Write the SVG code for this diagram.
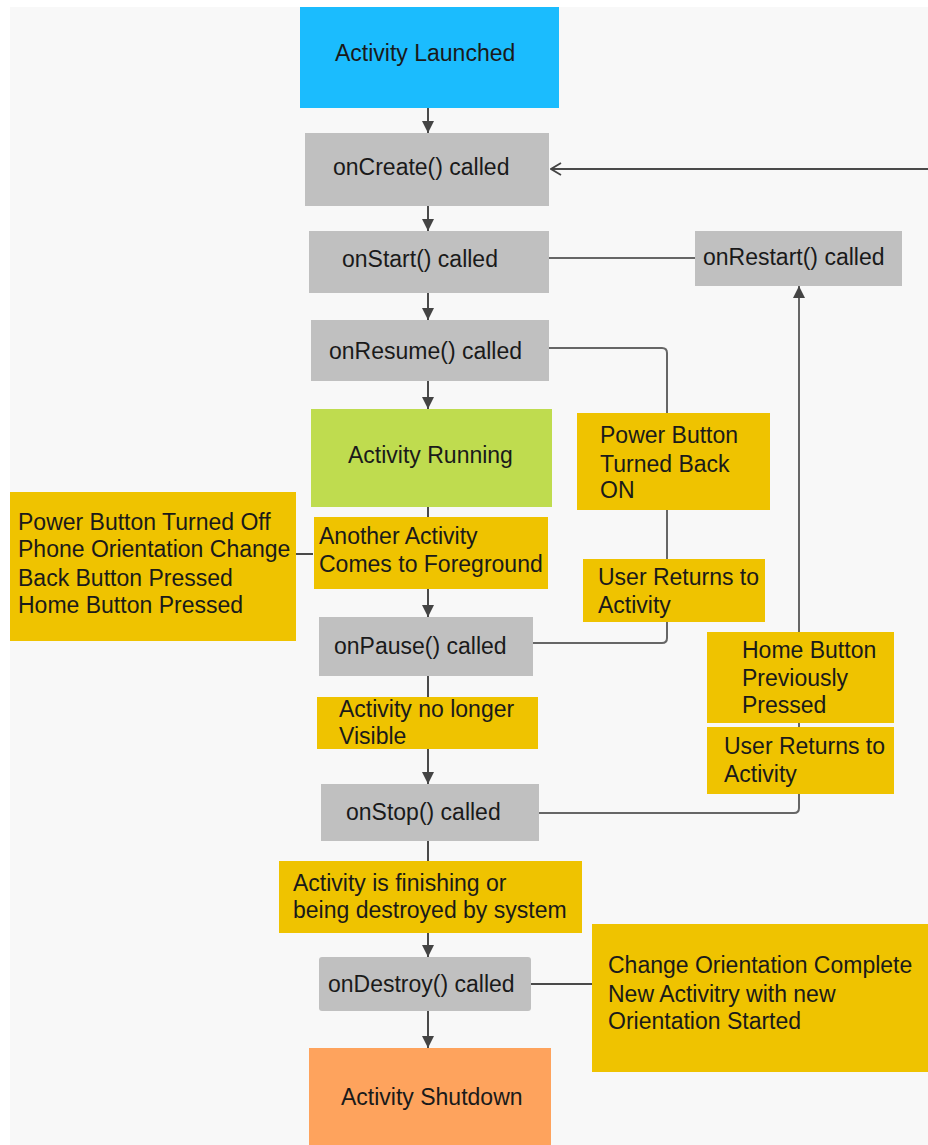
<svg xmlns="http://www.w3.org/2000/svg" width="928" height="1145" viewBox="0 0 928 1145">
<defs>
<style>
text{font-family:"Liberation Sans",Arial,sans-serif;font-size:23px;fill:#1a1a1a}
.gray{fill:#c0c0c0}
.lbl{fill:#efc300}
.ln{fill:none;stroke:#4a4a4a;stroke-width:2}
.ln2{fill:none;stroke:#666;stroke-width:2}
</style>
<marker id="ah" viewBox="0 0 12 12" refX="12" refY="6" markerWidth="12" markerHeight="12" markerUnits="userSpaceOnUse" orient="auto">
<path d="M0,0 L12,6 L0,12 z" fill="#444"/>
</marker>
<marker id="open" viewBox="0 0 12 14" refX="11" refY="7" markerWidth="12" markerHeight="14" markerUnits="userSpaceOnUse" orient="auto">
<path d="M1,1 L11,7 L1,13" fill="none" stroke="#444" stroke-width="1.8"/>
</marker>
</defs>
<rect x="10" y="7" width="918" height="1138" fill="#f8f8f8"/>
<g id="connectors">
<line class="ln" x1="428" y1="108" x2="428" y2="133" marker-end="url(#ah)"/>
<line class="ln" x1="428" y1="206" x2="428" y2="231" marker-end="url(#ah)"/>
<line class="ln" x1="428" y1="293" x2="428" y2="320" marker-end="url(#ah)"/>
<line class="ln" x1="428" y1="381" x2="428" y2="409" marker-end="url(#ah)"/>
<line class="ln" x1="428" y1="507" x2="428" y2="617" marker-end="url(#ah)"/>
<line class="ln" x1="428" y1="676" x2="428" y2="784" marker-end="url(#ah)"/>
<line class="ln" x1="428" y1="841" x2="428" y2="957" marker-end="url(#ah)"/>
<line class="ln" x1="428" y1="1011" x2="428" y2="1048" marker-end="url(#ah)"/>
<line class="ln" x1="928" y1="169" x2="551" y2="169" stroke-width="2.5" marker-end="url(#open)"/>
<line class="ln2" x1="549" y1="258" x2="695" y2="258"/>
<path class="ln2" d="M549,348 H662 Q667,348 667,353 V638 Q667,643 662,643 H533"/>
<path class="ln2" d="M539,813 H794 Q799,813 799,808 V286" marker-end="url(#ah)"/>
<line class="ln" x1="296" y1="554" x2="313" y2="554"/>
<line class="ln" x1="531" y1="984" x2="592" y2="984" stroke-width="2.5"/>
</g>
<g id="activity-launched"><rect x="300" y="7" width="259" height="101" fill="#1bbcfe"/><text x="335" y="61">Activity Launched</text></g>
<g id="oncreate"><rect class="gray" x="305" y="133" width="244" height="73"/><text x="333" y="175">onCreate() called</text></g>
<g id="onstart"><rect class="gray" x="309" y="231" width="240" height="62"/><text x="342" y="267">onStart() called</text></g>
<g id="onrestart"><rect class="gray" x="695" y="231" width="207" height="55"/><text x="703" y="265">onRestart() called</text></g>
<g id="onresume"><rect class="gray" x="311" y="320" width="238" height="61"/><text x="329" y="359">onResume() called</text></g>
<g id="activity-running"><rect x="311" y="409" width="241" height="98" fill="#bfdc4f"/><text x="348" y="463">Activity Running</text></g>
<g id="lbl-another"><rect class="lbl" x="314" y="517" width="234" height="72"/><text x="319" y="544">Another Activity</text><text x="319" y="572">Comes to Foreground</text></g>
<g id="lbl-power-off"><rect class="lbl" x="10" y="492" width="286" height="149"/><text x="18" y="530">Power Button Turned Off</text><text x="18" y="557">Phone Orientation Change</text><text x="18" y="586">Back Button Pressed</text><text x="18" y="613">Home Button Pressed</text></g>
<g id="lbl-power-on"><rect class="lbl" x="577" y="413" width="193" height="97"/><text x="600" y="443">Power Button</text><text x="600" y="472">Turned Back</text><text x="600" y="498">ON</text></g>
<g id="lbl-user-returns-1"><rect class="lbl" x="583" y="559" width="182" height="63"/><text x="598" y="585">User Returns to</text><text x="598" y="613">Activity</text></g>
<g id="onpause"><rect class="gray" x="319" y="617" width="214" height="59"/><text x="334" y="654">onPause() called</text></g>
<g id="lbl-not-visible"><rect class="lbl" x="317" y="697" width="221" height="52"/><text x="339" y="717">Activity no longer</text><text x="339" y="744">Visible</text></g>
<g id="lbl-home-prev"><rect class="lbl" x="707" y="632" width="187" height="91"/><text x="742" y="658">Home Button</text><text x="742" y="686">Previously</text><text x="742" y="713">Pressed</text></g>
<g id="lbl-user-returns-2"><rect class="lbl" x="707" y="727" width="187" height="67"/><text x="724" y="754">User Returns to</text><text x="724" y="782">Activity</text></g>
<g id="onstop"><rect class="gray" x="321" y="784" width="218" height="57"/><text x="346" y="820">onStop() called</text></g>
<g id="lbl-finishing"><rect class="lbl" x="279" y="861" width="303" height="72"/><text x="293" y="891">Activity is finishing or</text><text x="293" y="918">being destroyed by system</text></g>
<g id="ondestroy"><rect class="gray" x="319" y="957" width="212" height="54" rx="3"/><text x="328" y="992">onDestroy() called</text></g>
<g id="lbl-orientation"><rect class="lbl" x="592" y="924" width="336" height="148"/><text x="608" y="973">Change Orientation Complete</text><text x="608" y="1002">New Activitry with new</text><text x="608" y="1029">Orientation Started</text></g>
<g id="activity-shutdown"><rect x="309" y="1048" width="242" height="97" fill="#fea35d"/><text x="341" y="1105">Activity Shutdown</text></g>
</svg>
